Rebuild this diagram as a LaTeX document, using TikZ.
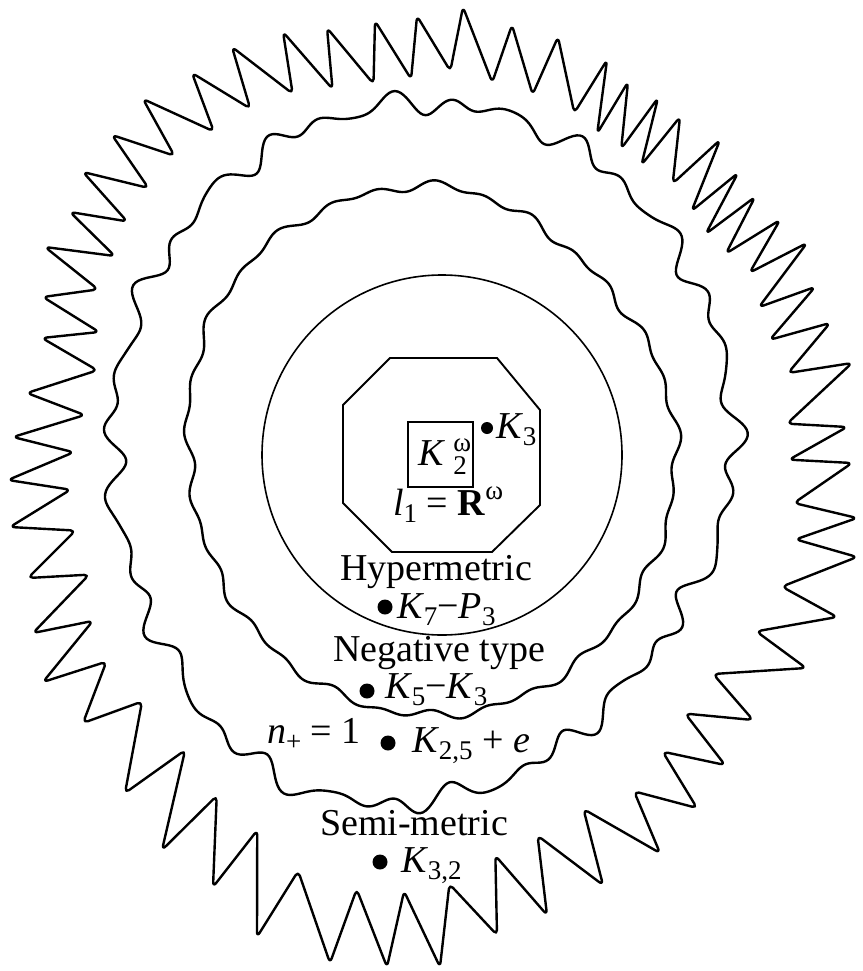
\documentclass[tikz,border=0pt]{standalone}
\usepackage{fontspec}
\setmainfont{Liberation Serif}
\usetikzlibrary{calc}
\newcommand{\lsub}[1]{\raisebox{-0.2em}{\fontsize{27}{27}\selectfont #1}}
\newcommand{\lsup}[1]{\raisebox{0.42em}{\fontsize{27}{27}\selectfont #1}}
\begin{document}
\begin{tikzpicture}[x=1pt,y=-1pt,
  declare function={
    bp(\a)=max(0,1-(\a)*(\a));
    ktwo(\a)=1+0.06*bp((\a-245)/40)*bp((\a-245)/40)-0.055*bp((\a-318)/40)*bp((\a-318)/40);
    wtwo(\a)=7*sin(31*\a)+5*sin(19*\a+70)+3*sin(43*\a+10);
    kthree(\a)=1+0.04*bp((\a-145)/45)*bp((\a-145)/45)-0.06*bp((\a-48)/45)*bp((\a-48)/45);
    wthree(\a)=3*sin(29*\a)+2.5*sin(17*\a+40);
  },
  wavy/.style={line width=2.4pt, line join=round, line cap=round},
  thin/.style={line width=1.6pt},
  frame/.style={line width=1.9pt},
  lbl/.style={anchor=base west, inner sep=0pt, outer sep=0pt, font=\fontsize{38}{44}\selectfont},
  dot/.style={circle, fill=black, inner sep=0pt, minimum size=15pt},
  smalldot/.style={circle, fill=black, inner sep=0pt, minimum size=12pt}
]
\useasboundingbox (0,0) rectangle (862,971);

% outer spiky curve (sawtooth: trough sits just before each peak)
\coordinate (c) at (433,486);
\foreach \x/\y [count=\i] in {463/7, 512/25, 558/37, 607/60, 628/82, 658/98, 680/117, 720/140,
  738/173, 755/197, 780/220, 807/243, 815/287, 830/323, 852/363, 847/427, 852/463, 857/518,
  857/557, 837/617, 806/668, 753/720, 725/765, 697/808, 660/853, 603/885, 547/915, 497/935,
  440/967, 387/967, 330/963, 257/937, 213/887, 162/850, 125/793, 83/723, 43/682, 33/633,
  28/578, 10/527, 8/480, 13/437, 27/393, 42/338, 43/297, 45/247, 70/212, 83/172, 112/135,
  143/99, 192/73, 232/47, 283/32, 327/28, 375/21, 417/16}
  { \coordinate (p\i) at (\x,\y); }
\foreach \i in {1,...,56} {
  \pgfmathtruncatemacro\j{mod(\i,56)+1}
  \pgfmathsetmacro\d{ifthenelse(\i>24,ifthenelse(\i<35,76,62),62)}
  \coordinate (m\i) at ($(p\j)!0.22!(p\i)$);
  \coordinate (t\i) at ($(m\i)!\d pt!(c)$);
}
\draw[wavy, rounded corners=5pt] (p1) foreach \i [count=\j from 2] in {1,...,55} { -- (t\i) -- (p\j) } -- (t56) -- cycle;

% second wavy curve
\draw[wavy] plot[variable=\t, domain=0:359.5, samples=720, smooth cycle]
  ({423+(311*ktwo(\t)+wtwo(\t))*cos(\t)}, {448-(345*ktwo(\t)+wtwo(\t))*sin(\t)});

% third wavy curve
\draw[wavy] plot[variable=\t, domain=0:359.5, samples=720, smooth cycle]
  ({433+(243*kthree(\t)+wthree(\t))*cos(\t)}, {450-(265*kthree(\t)+wthree(\t))*sin(\t)});

% circle, octagon, square
\draw[thin] (442,455) circle (180pt);
\draw[frame] (390,358) -- (497,358) -- (540,410) -- (540,505) -- (492,552) -- (392,552) -- (343,503) -- (343,405) -- cycle;
\draw[frame] (408,422) rectangle (473,487);

% labels
\node[lbl] (k2w) at (418,465) {\textit{K}\kern0.22em\rlap{\raisebox{0.36em}{\fontsize{27}{27}\selectfont ω}}\raisebox{-0.24em}{\fontsize{27}{27}\selectfont 2}};
\node[smalldot] (d3) at (487,428) {};
\node[lbl] (k3) at (496,438) {\textit{K}\lsub{3}};
\node[lbl] (l1) at (393,515) {\textit{l}\lsub{1} = \textbf{R}\lsup{ω}};
\node[lbl] (hyp) at (340,580) {Hypermetric};
\node[dot] (d7) at (385,607) {};
\node[lbl] (k7) at (397,618) {\textit{K}\lsub{7}−\textit{P}\lsub{3}};
\node[lbl] (neg) at (333,661) {Negative type};
\node[dot] (d5) at (367,691) {};
\node[lbl] (k5) at (385,698) {\textit{K}\lsub{5}−\textit{K}\lsub{3}};
\node[lbl] (np) at (267,743) {\textit{n}\lsub{+} = 1};
\node[dot] (d25) at (388,743) {};
\node[lbl] (k25) at (412,752) {\textit{K}\lsub{2,5} + \textit{e}};
\node[lbl] (semi) at (320,835) {Semi-metric};
\node[dot] (d32) at (380,862) {};
\node[lbl] (k32) at (401,872) {\textit{K}\lsub{3,2}};
\end{tikzpicture}
\end{document}
